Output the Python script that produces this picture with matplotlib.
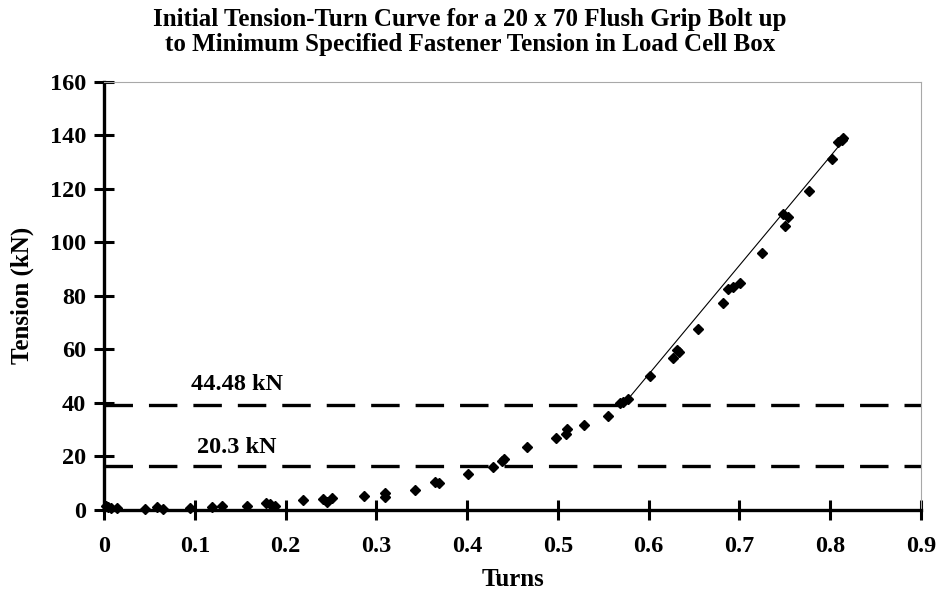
import matplotlib
matplotlib.use("Agg")
import matplotlib.pyplot as plt

# ---- data ----
turns = [0.002, 0.0044, 0.008, 0.014, 0.045, 0.058, 0.065, 0.095, 0.119, 0.130,
         0.157, 0.179, 0.183, 0.188, 0.2195, 0.241, 0.246, 0.251, 0.2868, 0.3095,
         0.3095, 0.3426, 0.3646, 0.369, 0.4006, 0.428, 0.438, 0.4406, 0.4656, 0.4976,
         0.5086, 0.5097, 0.5288, 0.5555, 0.5684, 0.572, 0.5769, 0.6013, 0.6265, 0.6309,
         0.6337, 0.6547, 0.6815, 0.6877, 0.6932, 0.7006, 0.7252, 0.750, 0.7483, 0.7538,
         0.7763, 0.8016, 0.8085, 0.8126, 0.814]
tension = [1.5, 1.2, 0.8, 0.9, 0.4, 1.1, 0.5, 0.9, 1.2, 1.5,
           1.5, 2.5, 2.2, 1.5, 3.7, 4.1, 3.1, 4.4, 5.3, 5.0,
           6.2, 7.5, 10.6, 10.2, 13.3, 15.9, 18.4, 18.9, 23.4, 27.0,
           28.4, 30.3, 31.9, 35.2, 39.9, 40.5, 41.4, 50.0, 56.7, 59.8,
           59.1, 67.5, 77.4, 82.4, 83.4, 84.9, 95.9, 106.1, 110.6, 109.6,
           119.3, 131.0, 137.5, 138.2, 139.0]

trend_turns = [0.575, 0.816]
trend_tension = [40.5, 138.6]

ref_levels = [39.3, 16.5]
ref_labels = ["44.48 kN", "20.3 kN"]
ref_label_pos = [(0.1466, 46.7), (0.1466, 23.2)]

x_ticks = [0, 0.1, 0.2, 0.3, 0.4, 0.5, 0.6, 0.7, 0.8, 0.9]
x_tick_labels = ["0", "0.1", "0.2", "0.3", "0.4", "0.5", "0.6", "0.7", "0.8", "0.9"]
y_ticks = [0, 20, 40, 60, 80, 100, 120, 140, 160]

title = "Initial Tension-Turn Curve for a 20 x 70 Flush Grip Bolt up\nto Minimum Specified Fastener Tension in Load Cell Box"

# ---- style ----
plt.rcParams['font.family'] = ['Liberation Serif', 'DejaVu Serif']
plt.rcParams['font.weight'] = 'bold'
plt.rcParams['lines.scale_dashes'] = False

fig = plt.figure(figsize=(9.4, 6.05), dpi=100)
ax = fig.add_axes([104/940, (605-510)/605, (921-104)/940, (510-81.7)/605])

ax.set_xlim(0, 0.9)
ax.set_ylim(0, 160)

for lvl in ref_levels:
    ax.plot([0, 0.9], [lvl, lvl], color='black', lw=2.4,
            dashes=(20.5, 11.5), solid_capstyle='butt', dash_capstyle='butt',
            clip_on=False, zorder=2)
for (tx, ty), lab in zip(ref_label_pos, ref_labels):
    ax.text(tx, ty, lab, ha='center', va='center', fontsize=17.5, fontweight='bold')

ax.plot(trend_turns, trend_tension, color='black', lw=0.8, zorder=3)
ax.plot(turns, tension, linestyle='none', marker='D', markersize=4.8,
        color='black', zorder=4, clip_on=False)

ax.set_xticks(x_ticks)
ax.set_xticklabels(x_tick_labels)
ax.set_yticks(y_ticks)
ax.tick_params(direction='inout', length=14, width=2.2, labelsize=17.5, color='black')
ax.tick_params(axis='x', pad=12)
ax.tick_params(axis='y', pad=6)
for lab in ax.get_xticklabels() + ax.get_yticklabels():
    lab.set_fontweight('bold')

for s in ['left', 'bottom']:
    ax.spines[s].set_linewidth(2.4)
    ax.spines[s].set_color('black')
for s in ['top', 'right']:
    ax.spines[s].set_linewidth(0.8)
    ax.spines[s].set_color('#a8a8a8')

ax.set_xlabel("Turns", fontsize=18, fontweight='bold', labelpad=8)
ax.set_ylabel("Tension (kN)", fontsize=18, fontweight='bold', labelpad=11)

fig.text(0.5, 1 - 32/605, title, ha='center', va='center', fontsize=18,
         fontweight='bold', linespacing=1.15)

fig.savefig("out.png", dpi=100)
